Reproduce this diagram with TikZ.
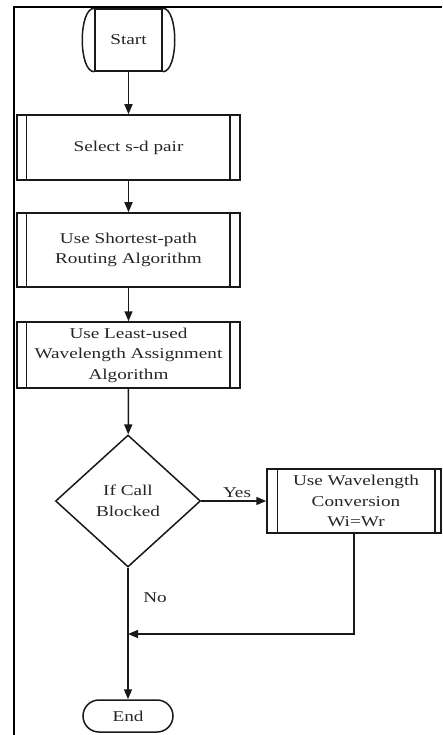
\documentclass[tikz,border=0pt]{standalone}
\usepackage{fontspec}
\setmainfont{Liberation Serif}[FakeStretch=1.28]
\usetikzlibrary{shapes.geometric,arrows.meta}
\begin{document}
\begin{tikzpicture}[x=1pt,y=-1pt,
  every node/.style={font=\fontsize{15}{20.5}\selectfont, text=black!85, align=center, inner sep=0pt},
  ln/.style={line width=1.5pt, draw=black!90},
  proc/.style={ln, rectangle, minimum width=223pt},
  term/.style={ln, rectangle},
  dec/.style={ln, diamond, minimum width=145pt, minimum height=132pt},
  arr/.style={ln, -{Triangle[length=10pt,width=8pt]}},
  lbl/.style={font=\fontsize{15}{18}\selectfont}
]
\useasboundingbox (0,0) rectangle (442,735);
% frame
\draw[line width=1.5pt] (442,7) -- (14,7) -- (14,735);

% Start
\node[term, minimum width=67pt, minimum height=62pt] (start) at (128.5,40) {Start};
\draw[ln] (start.north west) .. controls ([xshift=-16pt]start.north west) and ([xshift=-16pt]start.south west) .. (start.south west);
\draw[ln] (start.north east) .. controls ([xshift=16pt]start.north east) and ([xshift=16pt]start.south east) .. (start.south east);

% Select
\node[proc, minimum height=65pt] (sel) at (128.5,147.5) {Select s-d pair};
\node[proc, minimum height=74pt] (sp) at (128.5,250) {Use Shortest-path\\Routing Algorithm};
\node[proc, minimum height=66pt] (lu) at (128.5,355) {Use Least-used\\Wavelength Assignment\\Algorithm};
\node[dec] (dec) at (128,501) {If Call\\Blocked};
\node[ln, rectangle, minimum width=174pt, minimum height=64pt] (wc) at (354,501) {};
\node at (356,501) (wct) {Use Wavelength\\Conversion\\Wi=Wr};
\node[ln, rectangle, rounded corners=16pt, minimum width=90pt, minimum height=32pt] (end) at (128,716) {End};
\coordinate (join) at (128,634);
\coordinate (corner) at (wc.south |- join);

% inner bars
\foreach \n in {sel,sp,lu}{
  \draw[ln] ([xshift=10pt]\n.north west) -- ([xshift=10pt]\n.south west);
  \draw[ln] ([xshift=-11pt]\n.north east) -- ([xshift=-11pt]\n.south east);
}
\draw[ln] ([xshift=11pt]wc.north west) -- ([xshift=11pt]wc.south west);
\draw[ln] ([xshift=-7pt]wc.north east) -- ([xshift=-7pt]wc.south east);

% connectors
\draw[arr] (start) -- (sel);
\draw[arr] (sel) -- (sp);
\draw[arr] (sp) -- (lu);
\draw[arr] (lu) -- (dec);
\draw[arr] (dec.east) -- node[lbl, above=3pt, pos=0.55] {Yes} (wc.west);
\draw[arr] (dec.south) -- (end.north);
\draw[arr] (wc.south -| corner) -- (corner) -- (join);
\node[lbl] at (155,598) (no) {No};
\end{tikzpicture}
\end{document}
